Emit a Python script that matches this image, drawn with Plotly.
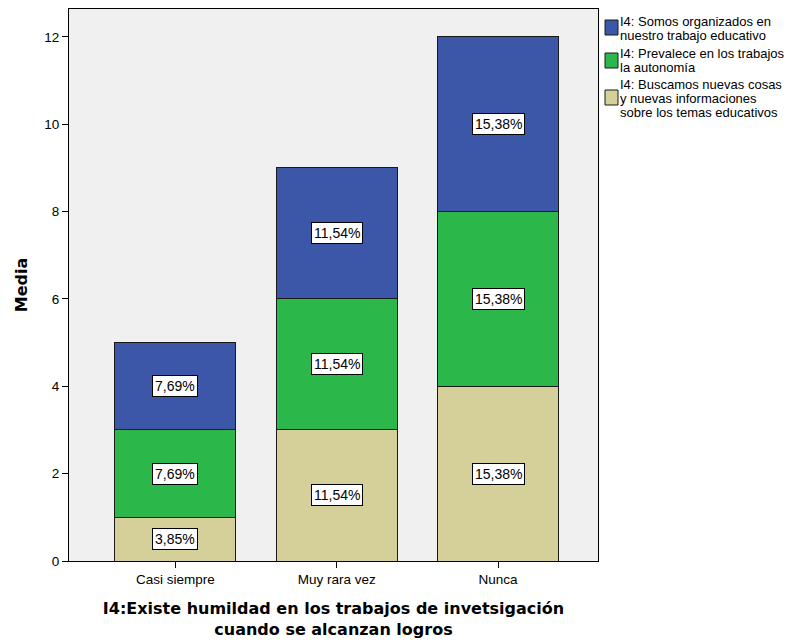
import plotly.graph_objects as go

categorias = ["Casi siempre", "Muy rara vez", "Nunca"]
series = [
    "I4: Buscamos nuevas cosas<br>y nuevas informaciones<br>sobre los temas educativos",
    "I4: Prevalece en los trabajos<br>la autonomía",
    "I4: Somos organizados en<br>nuestro trabajo educativo",
]
buscamos = [1, 3, 4]
prevalece = [2, 3, 4]
organizados = [2, 3, 4]
pct_buscamos = ["3,85%", "11,54%", "15,38%"]
pct_prevalece = ["7,69%", "11,54%", "15,38%"]
pct_organizados = ["7,69%", "11,54%", "15,38%"]

colores = ["#D5CF9A", "#2CB74A", "#3C56A8"]
valores = [buscamos, prevalece, organizados]
etiquetas = [pct_buscamos, pct_prevalece, pct_organizados]

fig = go.Figure()
for nombre, vals, col in zip(series, valores, colores):
    fig.add_trace(go.Bar(
        x=categorias, y=vals, name=nombre, width=0.75, showlegend=False,
        marker=dict(color=col, line=dict(color="#1a1a1a", width=1)),
    ))

# etiquetas de porcentaje en el centro de cada segmento
base = [0] * len(categorias)
for vals, labs in zip(valores, etiquetas):
    for i, (v, t) in enumerate(zip(vals, labs)):
        fig.add_annotation(
            x=categorias[i], y=base[i] + v / 2, text=t, showarrow=False,
            bgcolor="white", bordercolor="black", borderwidth=1, borderpad=2,
            font=dict(size=14, color="black"),
        )
        base[i] += v

# leyenda al estilo SPSS (cuadros + texto con interlineado estrecho)
leyenda_cuadros = [(11, 26), (44, 59), (81, 96)]          # px bajo el borde superior
leyenda_lineas = [[12, 26], [44, 58], [75, 89, 103]]
for k, idx in enumerate([2, 1, 0]):
    y0, y1 = leyenda_cuadros[k]
    fig.add_shape(
        type="rect", xref="paper", yref="paper",
        xsizemode="pixel", ysizemode="pixel", xanchor=1, yanchor=1,
        x0=7, x1=20, y0=-y1, y1=-y0,
        fillcolor=colores[idx], line=dict(color="#1a1a1a", width=1),
    )
    for linea, dy in zip(series[idx].split("<br>"), leyenda_lineas[k]):
        fig.add_annotation(
            xref="paper", yref="paper", x=1, y=1, xanchor="left", yanchor="middle",
            xshift=21, yshift=-dy, text=linea, showarrow=False, borderpad=0,
            font=dict(size=13, color="black"), align="left",
        )

fig.update_layout(
    barmode="stack",
    width=794, height=634,
    margin=dict(l=61, r=204, t=1, b=81),
    paper_bgcolor="white",
    plot_bgcolor="#F0F0F0",
    font=dict(family="Liberation Sans, Arial, sans-serif", size=13.5, color="black"),
    showlegend=False,
    xaxis=dict(
        range=[-0.66, 2.62], showline=True, linecolor="black", linewidth=1,
        mirror=True, ticks="outside", ticklen=6, tickcolor="black",
        title=dict(
            text="<b>I4:Existe humildad en los trabajos de invetsigación<br>cuando se alcanzan logros</b>",
            font=dict(size=16, family="DejaVu Sans"), standoff=16,
        ),
    ),
    yaxis=dict(
        range=[0, 12.64], dtick=2, showgrid=False, zeroline=False,
        showline=True, linecolor="black", linewidth=1, mirror=True,
        ticks="outside", ticklen=6, tickcolor="black",
        title=dict(text="<b>Media</b>", font=dict(size=16, family="DejaVu Sans"), standoff=12),
    ),
)

fig.write_html("out.html")
